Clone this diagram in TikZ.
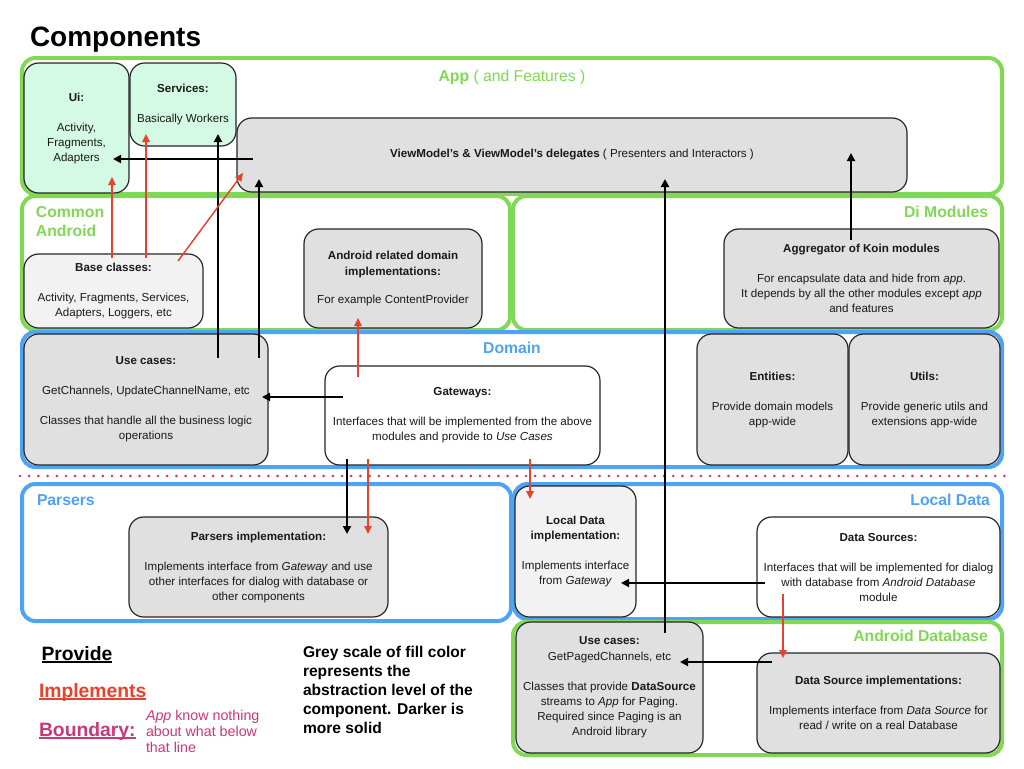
\documentclass[tikz,border=0pt]{standalone}
\usepackage{fontspec}
\setmainfont{Liberation Sans}
\usetikzlibrary{arrows.meta}
\definecolor{cgreen}{HTML}{80D855}
\definecolor{cblue}{HTML}{4DA3F4}
\definecolor{cred}{HTML}{E6432D}
\definecolor{cmag}{HTML}{C8397A}
\definecolor{cmint}{HTML}{D4FAE6}
\definecolor{cgrey}{HTML}{E0E0E0}
\definecolor{clight}{HTML}{F2F2F2}
\newcommand\bodyf{\fontsize{8.7}{11.25}\selectfont}
\newcommand\labf{\fontsize{11.8}{14.25}\selectfont}
\begin{document}
\begin{tikzpicture}[x=0.75pt,y=-0.75pt,
  every node/.style={inner sep=0pt, outer sep=0pt},
  cont/.style={draw, line width=3pt, rounded corners=10pt},
  cbox/.style={draw=black!85, line width=0.9pt, rounded corners=11pt, align=center, font=\bodyf, text=black!90},
  prov/.style={draw=black, line width=1.4pt, -{Triangle[length=6pt,width=6pt]}},
  impl/.style={draw=cred, line width=1.1pt, -{Triangle[length=6pt,width=5.5pt]}},
  lab/.style={font=\labf},
  uline/.style={line width=1pt}
]
\fill[white] (0,0) rectangle (1024,768);
\useasboundingbox (0,0) rectangle (1024,768);

% title
\node[anchor=base west, font=\fontsize{21}{25}\selectfont\bfseries] (title) at (30,46) {Components};

% containers
\node[cont, draw=cgreen, minimum width=735pt, minimum height=102pt] (app) at (512,126) {};
\node[cont, draw=cgreen, minimum width=366pt, minimum height=100.5pt] (common) at (266,263) {};
\node[cont, draw=cgreen, minimum width=366.75pt, minimum height=100.5pt] (di) at (757.5,263) {};
\node[cont, draw=cblue, minimum width=735pt, minimum height=101.25pt] (domain) at (512,399.5) {};
\node[cont, draw=cblue, minimum width=366.75pt, minimum height=102.75pt] (parsers) at (266.5,552.5) {};
\node[cont, draw=cblue, minimum width=366pt, minimum height=101.25pt] (local) at (758,551.5) {};
\node[cont, draw=cgreen, minimum width=366.75pt, minimum height=99.75pt] (adb) at (757.5,688.5) {};

% container labels
\node[lab, text=cgreen, anchor=base] (applab) at (512,81.5) {\textbf{App} ( and Features )};
\node[lab, text=cgreen, anchor=west, align=left, font=\labf\bfseries] (comlab) at (36,221.5) {Common\\Android};
\node[lab, text=cgreen, anchor=base east, font=\labf\bfseries] (dilab) at (988,217.5) {Di Modules};
\node[lab, text=cblue, anchor=base, font=\labf\bfseries] (domlab) at (512,353.5) {Domain};
\node[lab, text=cblue, anchor=base west, font=\labf\bfseries] (parlab) at (37,505.5) {Parsers};
\node[lab, text=cblue, anchor=base east, font=\labf\bfseries] (loclab) at (990,505.5) {Local Data};
\node[lab, text=cgreen, anchor=base east, font=\labf\bfseries] (adblab) at (988,641.5) {Android Database};

% boxes
\node[cbox, fill=cmint, minimum width=78.75pt, minimum height=97.5pt] (ui) at (76.5,128)
  {\textbf{Ui:}\\[11.25pt]Activity,\\Fragments,\\Adapters};
\node[cbox, fill=cmint, minimum width=79.5pt, minimum height=62.25pt] (serv) at (183,104.5)
  {\textbf{Services:}\\[11.25pt]Basically Workers};
\node[cbox, fill=cgrey, minimum width=502.5pt, minimum height=55.5pt] (vm) at (572,155)
  {\textbf{ViewModel’s \& ViewModel’s delegates} ( Presenters and Interactors )};
\node[cbox, fill=clight, minimum width=134.25pt, minimum height=55.5pt] (base) at (113.5,291)
  {\textbf{Base classes:}\\[11.25pt]Activity, Fragments, Services,\\Adapters, Loggers, etc};
\node[cbox, fill=cgrey, minimum width=133.5pt, minimum height=74.25pt] (andr) at (393,278.5)
  {\textbf{Android related domain}\\[1pt]\textbf{implementations:}\\[10pt]For example ContentProvider};
\node[cbox, fill=cgrey, minimum width=206.25pt, minimum height=74.25pt] (aggr) at (861.5,278.5)
  {\textbf{Aggregator of Koin modules}\\[11.25pt]For encapsulate data and hide from \emph{app}.\\It depends by all the other modules except \emph{app}\\and features};
\node[cbox, fill=cgrey, minimum width=183pt, minimum height=98.25pt] (uc) at (146,399.5)
  {\textbf{Use cases:}\\[11.25pt]GetChannels, UpdateChannelName, etc\\[11.25pt]Classes that handle all the business logic\\operations};
\node[cbox, fill=white, minimum width=206.25pt, minimum height=74.25pt] (gw) at (462.5,415.5)
  {\textbf{Gateways:}\\[11.25pt]Interfaces that will be implemented from the above\\modules and provide to \emph{Use Cases}};
\node[cbox, fill=cgrey, minimum width=113.25pt, minimum height=98.25pt] (ent) at (772.5,399.5)
  {\textbf{Entities:}\\[11.25pt]Provide domain models\\app-wide};
\node[cbox, fill=cgrey, minimum width=113.25pt, minimum height=98.25pt] (utl) at (924.5,399.5)
  {\textbf{Utils:}\\[11.25pt]Provide generic utils and\\extensions app-wide};
\node[cbox, fill=cgrey, minimum width=194.25pt, minimum height=75pt] (pars) at (258.5,567)
  {\textbf{Parsers implementation:}\\[11.25pt]Implements interface from \emph{Gateway} and use\\other interfaces for dialog with database or\\other components};
\node[cbox, fill=clight, minimum width=90.75pt, minimum height=98.25pt] (ldi) at (575.5,551.5)
  {\textbf{Local Data}\\\textbf{implementation:}\\[11.25pt]Implements interface\\from \emph{Gateway}};
\node[cbox, fill=white, minimum width=182.25pt, minimum height=75pt] (ds) at (878.5,567)
  {\textbf{Data Sources:}\\[11.25pt]Interfaces that will be implemented for dialog\\with database from \emph{Android Database}\\module};
\node[cbox, fill=cgrey, minimum width=140.25pt, minimum height=98.25pt] (ucp) at (609.5,687.5)
  {\textbf{Use cases:}\\[0.5pt]GetPagedChannels, etc\\[11.25pt]Classes that provide \textbf{DataSource}\\streams to \emph{App} for Paging.\\Required since Paging is an\\Android library};
\node[cbox, fill=cgrey, minimum width=182.25pt, minimum height=75pt] (dsi) at (878.5,703)
  {\textbf{Data Source implementations:}\\[11.25pt]Implements interface from \emph{Data Source} for\\read / write on a real Database};

% boundary line
\coordinate (bl) at (20,476);
\coordinate (br) at (1012,476);
\draw[cmag, line width=2.2pt, line cap=round, dash pattern=on 0pt off 6.9pt] (bl) -- (br);

% legend
\node[anchor=base west, font=\fontsize{14.5}{17}\selectfont\bfseries] (lprov) at (41.5,660) {Provide};
\draw[uline, black] ([yshift=-1.6pt]lprov.base west) -- ([yshift=-1.6pt]lprov.base east);
\node[anchor=base west, text=cred, font=\fontsize{14.5}{17}\selectfont\bfseries] (limpl) at (39,697) {Implements};
\draw[uline, cred] ([yshift=-1.6pt]limpl.base west) -- ([yshift=-1.6pt]limpl.base east);
\node[anchor=base west, text=cmag, font=\fontsize{14.5}{17}\selectfont\bfseries] (lbound) at (39,736) {Boundary:};
\draw[uline, cmag] ([yshift=-1.6pt]lbound.base west) -- ([yshift=-1.6pt]lbound.base east);
\node[anchor=west, align=left, text=cmag, font=\fontsize{10.7}{12}\selectfont] (lbtext) at (146,731)
  {\emph{App} know nothing\\about what below\\that line};
\node[anchor=west, align=left, font=\fontsize{11.7}{14.2}\selectfont\bfseries] (grey) at (303,690)
  {Grey scale of fill color\\represents the\\abstraction level of the\\component. Darker is\\more solid};

% arrow end points
\coordinate (a1s) at (253,159);  \coordinate (a1e) at (113,159);
\coordinate (a2s) at (218,358);  \coordinate (a2e) at (218,134);
\coordinate (a3s) at (259,358);  \coordinate (a3e) at (259,179);
\coordinate (a4s) at (343,397);  \coordinate (a4e) at (262,397);
\coordinate (a5s) at (347,459);  \coordinate (a5e) at (347,534);
\coordinate (a6s) at (851,240);  \coordinate (a6e) at (851,153);
\coordinate (a7s) at (665,633);  \coordinate (a7e) at (665,179);
\coordinate (a8s) at (765,583);  \coordinate (a8e) at (621,583);
\coordinate (a9s) at (772,662);  \coordinate (a9e) at (680,662);
\coordinate (r1s) at (112,258);  \coordinate (r1e) at (112,177);
\coordinate (r2s) at (146,258);  \coordinate (r2e) at (146,134);
\coordinate (r3s) at (178,261);  \coordinate (r3e) at (243,173);
\coordinate (r4s) at (358,377);  \coordinate (r4e) at (358,318);
\coordinate (r5s) at (368,459);  \coordinate (r5e) at (368,534);
\coordinate (r6s) at (530,459);  \coordinate (r6e) at (530,499);
\coordinate (r7s) at (783,594);  \coordinate (r7e) at (783,658);

% provide arrows
\draw[prov] (a1s) -- (a1e);
\draw[prov] (a2s) -- (a2e);
\draw[prov] (a3s) -- (a3e);
\draw[prov] (a4s) -- (a4e);
\draw[prov] (a5s) -- (a5e);
\draw[prov] (a6s) -- (a6e);
\draw[prov] (a7s) -- (a7e);
\draw[prov] (a8s) -- (a8e);
\draw[prov] (a9s) -- (a9e);
% implements arrows
\draw[impl] (r1s) -- (r1e);
\draw[impl] (r2s) -- (r2e);
\draw[impl] (r3s) -- (r3e);
\draw[impl] (r4s) -- (r4e);
\draw[impl] (r5s) -- (r5e);
\draw[impl] (r6s) -- (r6e);
\draw[impl] (r7s) -- (r7e);
\end{tikzpicture}
\end{document}
